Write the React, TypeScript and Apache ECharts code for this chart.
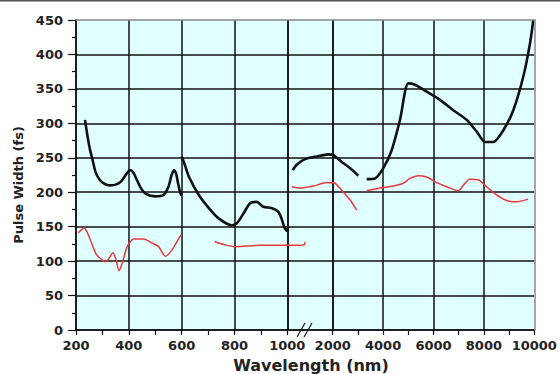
import { useEffect, useRef } from "react";
import * as echarts from "echarts";

// Wavelength (nm) vs pulse width (fs)
const blackUV: number[][] = [
  [234, 305], [240, 290], [246, 276], [254, 260], [262, 248], [275, 228], [288, 219], [300, 214], [315, 211], [331, 210],
  [350, 211], [369, 215], [388, 225], [400, 231], [408, 232], [418, 228], [428, 220], [444, 207], [463, 198],
  [500, 194], [531, 196], [550, 208], [562, 225], [571, 232], [579, 227], [587, 212], [594, 200], [600, 195],
];
const blackVis: number[][] = [
  [600, 252], [610, 242], [628, 222], [665, 196], [703, 177], [740, 162], [790, 152], [809, 155],
  [834, 169], [859, 184], [884, 186], [909, 179], [940, 177], [965, 172], [978, 162], [990, 148], [1000, 143],
];
const blackNIR: number[][] = [
  [1119, 232], [1207, 240], [1390, 248], [1648, 252], [1904, 255], [2024, 254], [2357, 244], [2686, 235], [3016, 224],
];
const blackMIR: number[][] = [
  [3349, 219], [3678, 220], [4008, 235], [4341, 261], [4670, 305], [5000, 358], [5266, 356], [5730, 346],
  [6258, 334], [6785, 319], [7317, 305], [7714, 288], [8043, 273], [8374, 273], [8770, 290], [9167, 319],
  [9564, 368], [9829, 416], [9960, 450],
];
const redUV: number[][] = [
  [209, 141], [231, 148], [250, 135], [275, 111], [294, 103], [313, 99], [325, 104], [340, 112],
  [350, 104], [363, 86], [375, 97], [394, 121], [419, 132], [456, 132], [488, 126], [513, 121],
  [538, 107], [563, 116], [594, 136], [600, 138],
];
const redVis: number[][] = [
  [725, 128], [760, 124], [800, 121], [850, 122], [900, 123], [1000, 123], [1200, 123], [1380, 124], [1390, 128],
];
const redNIR: number[][] = [
  [1097, 208], [1280, 206], [1573, 209], [1867, 214], [2091, 213], [2357, 203], [2686, 189], [2952, 174],
];
const redMIR: number[][] = [
  [3349, 202], [3877, 206], [4405, 209], [4802, 213], [5067, 220], [5397, 224], [5730, 222], [6127, 214],
  [6524, 208], [6984, 202], [7182, 210], [7446, 219], [7776, 218], [8107, 208], [8504, 196], [8900, 188],
  [9297, 186], [9750, 190],
];

const xRanges: number[][] = [[200, 1000], [1000, 2000], [2000, 10000]];
const xIntervals: number[] = [200, 1000, 2000];
const yMin = 0;
const yMax = 450;
const yInterval = 50;

const blackCurves = [blackUV, blackVis, blackNIR, blackMIR];
const redCurves = [redUV, redVis, redNIR, redMIR];

function seg(data: number[][], lo: number, hi: number): number[][] {
  let first = -1;
  let last = -1;
  data.forEach((p, i) => {
    if (p[0] >= lo && p[0] <= hi) {
      if (first < 0) first = i;
      last = i;
    }
  });
  if (first < 0) return [];
  return data.slice(Math.max(0, first - 1), Math.min(data.length, last + 2));
}

export default function App() {
  const ref = useRef<HTMLDivElement>(null);
  useEffect(() => {
    document.body.style.margin = "0";
    if (!ref.current) return;
    const chart = echarts.init(ref.current, undefined, { renderer: "svg" });
    const font = "DejaVu Sans";
    const gridBox = [
      { left: 76, width: 211.3 },
      { left: 287.3, width: 45.4 },
      { left: 332.7, width: 201.6 },
    ];
    const grid = gridBox.map((g) => ({
      left: g.left,
      width: g.width,
      top: 20,
      height: 310,
      show: true,
      backgroundColor: "#e0ffff",
      borderWidth: 0,
      containLabel: false,
    }));
    const xAxis = xRanges.map((r, k) => ({
      type: "value",
      gridIndex: k,
      min: r[0],
      max: r[1],
      interval: xIntervals[k],
      axisLine: { show: true, onZero: false, lineStyle: { color: "#111", width: 1.5 } },
      axisTick: { show: k !== 1, length: 5, lineStyle: { color: "#111", width: 1.2 } },
      minorTick: { show: k !== 1, splitNumber: 2, length: 5, lineStyle: { color: "#111", width: 1.2 } },
      axisLabel: {
        show: k !== 1,
        margin: 9,
        fontFamily: font,
        fontWeight: "bold",
        fontSize: 13,
        color: "#222",
        formatter: (v: number) => String(v),
      },
      splitLine: { show: true, showMaxLine: k !== 2, lineStyle: { color: "#111", width: 1.5 } },
    }));
    const yAxis = xRanges.map((_, k) => ({
      type: "value",
      gridIndex: k,
      min: yMin,
      max: yMax,
      interval: yInterval,
      axisLine: { show: k === 0, lineStyle: { color: "#111", width: 1.5 } },
      axisTick: { show: k === 0, length: 8, lineStyle: { color: "#111", width: 1.2 } },
      minorTick: { show: k === 0, splitNumber: 2, length: 4, lineStyle: { color: "#111", width: 1.2 } },
      axisLabel: {
        show: k === 0,
        margin: 13,
        fontFamily: font,
        fontWeight: "bold",
        fontSize: 13,
        color: "#222",
        formatter: (v: number) => String(v),
      },
      splitLine: { show: true, showMaxLine: false, lineStyle: { color: "#111", width: 1.5 } },
    }));
    const series: any[] = [];
    const addCurves = (curves: number[][][], color: string, width: number) => {
      curves.forEach((c) => {
        xRanges.forEach((r, k) => {
          const d = seg(c, r[0], r[1]);
          if (d.length < 2) return;
          series.push({
            type: "line",
            xAxisIndex: k,
            yAxisIndex: k,
            data: d,
            showSymbol: false,
            smooth: 0.25,
            clip: true,
            lineStyle: { color, width },
            z: 5,
          });
        });
      });
    };
    addCurves(redCurves, "#e8383d", 1.5);
    addCurves(blackCurves, "#111", 2.6);

    chart.setOption({
      animation: false,
      grid,
      xAxis,
      yAxis,
      series,
      graphic: [
        { type: "rect", shape: { x: 0, y: 0, width: 560, height: 1.5 }, style: { fill: "#555" }, z: 100 },
        {
          type: "polyline",
          shape: { points: [[76, 20], [535, 20], [535, 330]] },
          style: { stroke: "#888", lineWidth: 1.5, fill: "none" },
          z: 100,
        },
        { type: "line", shape: { x1: 297, y1: 337, x2: 305, y2: 323 }, style: { stroke: "#111", lineWidth: 1.2 }, z: 100 },
        { type: "line", shape: { x1: 304, y1: 337, x2: 312, y2: 323 }, style: { stroke: "#111", lineWidth: 1.2 }, z: 100 },
        {
          type: "text",
          x: 311,
          y: 365,
          style: {
            text: "Wavelength (nm)",
            fontFamily: font,
            fontWeight: "bold",
            fontSize: 16,
            fill: "#222",
            textAlign: "center",
            textVerticalAlign: "middle",
          },
          z: 100,
        },
        {
          type: "text",
          x: 18,
          y: 185,
          rotation: Math.PI / 2,
          style: {
            text: "Pulse Width (fs)",
            fontFamily: font,
            fontWeight: "bold",
            fontSize: 13,
            fill: "#222",
            textAlign: "center",
            textVerticalAlign: "middle",
          },
          z: 100,
        },
      ],
    });
    return () => chart.dispose();
  }, []);
  return <div ref={ref} style={{ width: 560, height: 374 }} />;
}
